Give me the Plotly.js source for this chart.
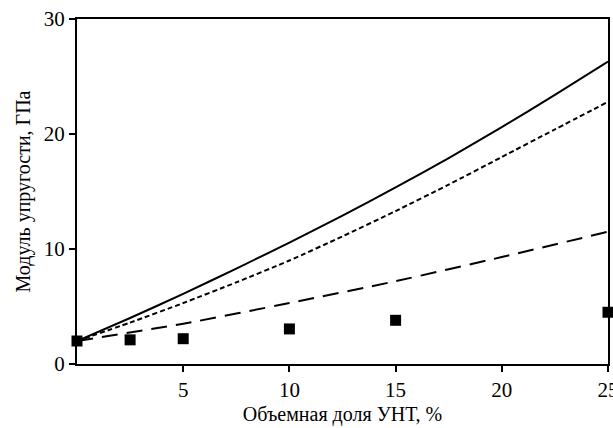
<!DOCTYPE html>
<html>
<head>
<meta charset="utf-8">
<script src="https://cdn.plot.ly/plotly-3.0.1.min.js"></script>
<style>html,body{margin:0;padding:0;background:#fff}#chart{width:613px;height:428px}</style>
</head>
<body>
<div id="chart"></div>
<script>
const xCurve = [0, 2.5, 5, 7.5, 10, 12.5, 15, 17.5, 20, 22.5, 25];
const solidY = [2.0, 4.0, 6.1, 8.3, 10.55, 12.9, 15.35, 17.9, 20.6, 23.4, 26.3];
const shortDashY = [2.0, 3.6, 5.3, 7.1, 9.0, 11.1, 13.3, 15.6, 18.0, 20.4, 22.8];
const xLong = [0, 5, 10, 15, 20, 25];
const longDashY = [2.0, 3.5, 5.3, 7.2, 9.3, 11.5];
const xExp = [0, 2.5, 5, 10, 15, 25];
const expY = [2.0, 2.1, 2.2, 3.05, 3.8, 4.5];
const xTicks = [5, 10, 15, 20, 25];
const yTicks = [0, 10, 20, 30];
const xTitle = 'Объемная доля УНТ, %';
const yTitle = 'Модуль упругости, ГПа';

const fam = 'Liberation Serif, Times New Roman, serif';
const f = s => ({family: fam, size: s, color: '#000'});

const traces = [
  {x: xCurve, y: solidY, mode: 'lines', line: {color: '#000', width: 2, shape: 'spline', smoothing: 0.6}},
  {x: xCurve, y: shortDashY, mode: 'lines', line: {color: '#000', width: 2, dash: '5px,3px', shape: 'spline', smoothing: 0.6}},
  {x: xLong, y: longDashY, mode: 'lines', line: {color: '#000', width: 2, dash: '16px,9px', shape: 'spline', smoothing: 0.6}},
  {x: xExp, y: expY, mode: 'markers', marker: {symbol: 'square', size: 11, color: '#000'}, cliponaxis: false}
];

const layout = {
  width: 613, height: 428,
  margin: {l: 77, r: 5, t: 19, b: 64},
  showlegend: false,
  paper_bgcolor: '#fff', plot_bgcolor: '#fff',
  font: f(20),
  xaxis: {
    range: [0, 25], tickvals: xTicks, ticktext: xTicks.map(String),
    showgrid: false, zeroline: false,
    showline: true, linecolor: '#000', linewidth: 2, mirror: true,
    ticks: 'outside', ticklen: 6, tickwidth: 2, tickcolor: '#000',
    ticklabeloverflow: 'allow',
    tickfont: f(21),
    title: {text: xTitle, font: f(20), standoff: 6}
  },
  yaxis: {
    range: [0, 30], tickvals: yTicks, ticktext: yTicks.map(String),
    showgrid: false, zeroline: false,
    showline: true, linecolor: '#000', linewidth: 2, mirror: true,
    ticks: 'outside', ticklen: 6, tickwidth: 2, tickcolor: '#000',
    tickfont: f(21),
    title: {text: yTitle, font: f(20), standoff: 8}
  }
};

Plotly.newPlot('chart', traces, layout, {displayModeBar: false, staticPlot: true});
</script>
</body>
</html>
